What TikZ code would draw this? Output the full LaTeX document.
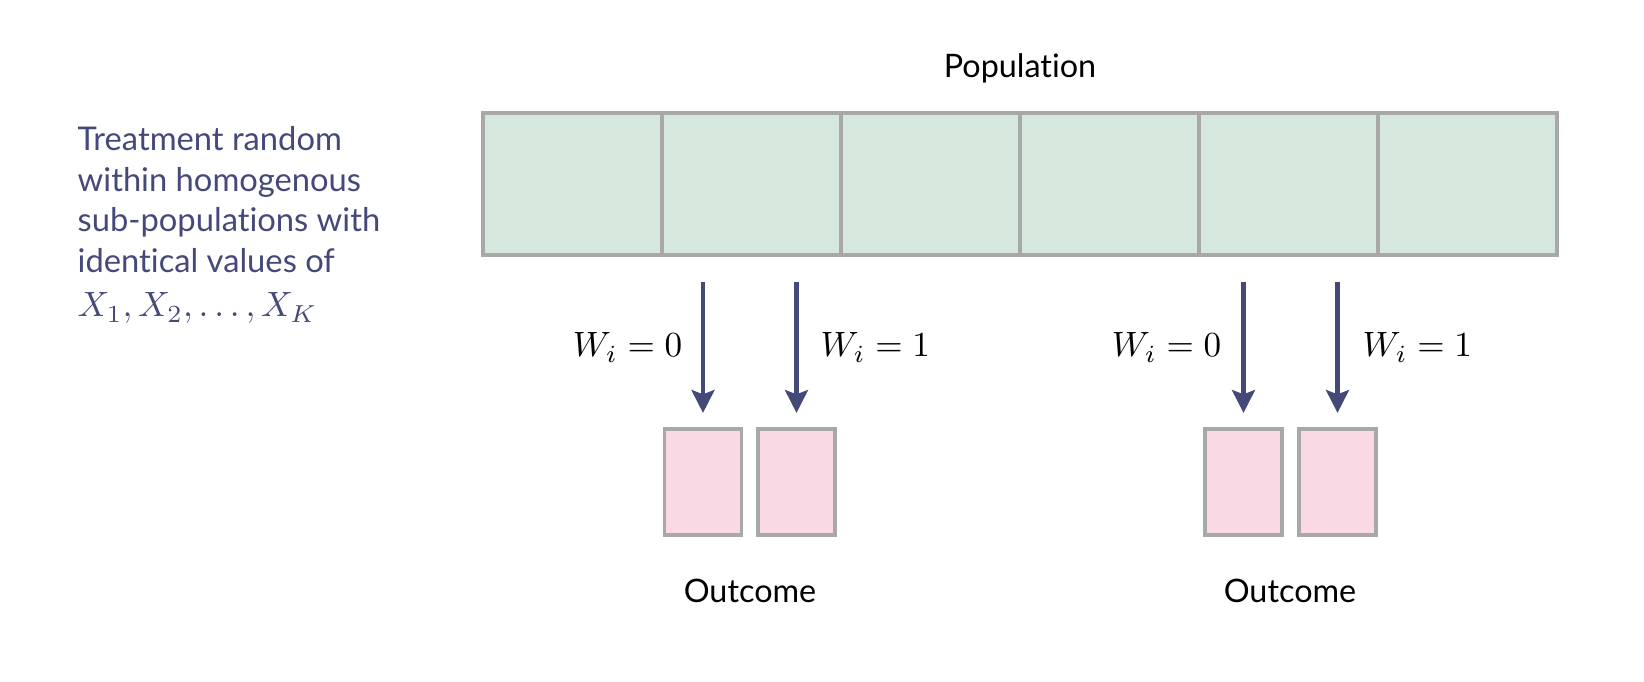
\documentclass[tikz,border=0pt]{standalone}
\usepackage{fontspec}
\setmainfont{Lato}[Ligatures={NoCommon}]
\usetikzlibrary{arrows.meta}
\definecolor{cellgreen}{HTML}{D6E7DE}
\definecolor{cellpink}{HTML}{F8D9E4}
\definecolor{edgegray}{HTML}{A8A8A8}
\definecolor{navy}{HTML}{45497A}
\begin{document}
\begin{tikzpicture}[x=0.01cm,y=-0.01cm,
  cell/.style={draw=edgegray,fill=cellgreen,line width=1.1pt,minimum width=1.79cm,minimum height=1.42cm,inner sep=0pt,outer sep=0pt},
  outbox/.style={draw=edgegray,fill=cellpink,line width=1.1pt,minimum width=0.77cm,minimum height=1.06cm,inner sep=0pt,outer sep=0pt},
  arr/.style={draw=navy,line width=1.2pt,-{Stealth[length=6.5pt,width=6.5pt,inset=1.2pt]},shorten <=0.27cm,shorten >=0.16cm},
  wlab/.style={font=\fontsize{10}{12}\selectfont,inner sep=0pt},
  title/.style={font=\fontsize{9.2}{11}\selectfont,inner sep=0pt,anchor=base},
  side/.style={font=\fontsize{9.3}{11.6}\selectfont,text=navy,align=left,inner sep=0pt,anchor=base west}
]
\useasboundingbox (0,0) rectangle (1644,682);
\foreach \k in {1,...,6} {
  \node[cell] (c\k) at ({483+179*(\k-0.5)},184) {};
}
\node[outbox] (o1) at (703,482) {};
\node[outbox] (o2) at (796.5,482) {};
\node[outbox] (o3) at (1243.5,482) {};
\node[outbox] (o4) at (1337.5,482) {};
\draw[arr] (c2.south -| o1.north) -- (o1.north);
\draw[arr] (c2.south -| o2.north) -- (o2.north);
\draw[arr] (c5.south -| o3.north) -- (o3.north);
\draw[arr] (c5.south -| o4.north) -- (o4.north);
\node[wlab,anchor=base east] (w1) at (683,357) {$W_i = 0$};
\node[wlab,anchor=base west] (w2) at (820,357) {$W_i = 1$};
\node[wlab,anchor=base east] (w3) at (1222,357) {$W_i = 0$};
\node[wlab,anchor=base west] (w4) at (1362,357) {$W_i = 1$};
\node[title] (pop) at (1020,78) {Population};
\node[title] (out1) at (750,603) {Outcome};
\node[title] (out2) at (1290,603) {Outcome};
\node[side] (desc) at (77,317) {Treatment random\\within homogenous\\sub-populations with\\identical values of\\[1pt]{\fontsize{10}{12}\selectfont$X_1, X_2, \ldots, X_K$}};
\end{tikzpicture}
\end{document}
